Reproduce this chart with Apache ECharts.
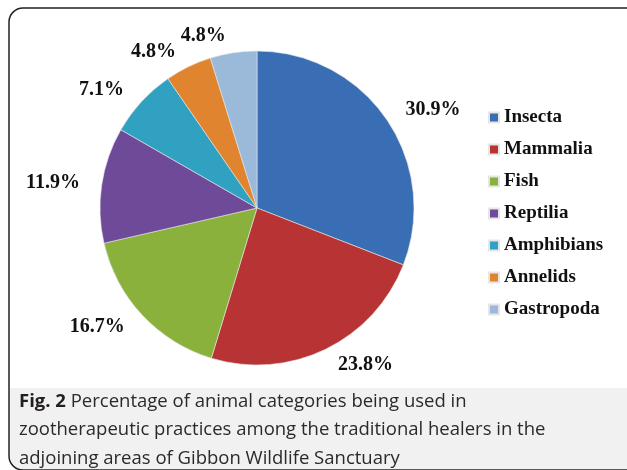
<!DOCTYPE html>
<html>
<head>
<meta charset="utf-8">
<script src="https://cdn.jsdelivr.net/npm/echarts@6/dist/echarts.min.js"></script>
<style>
  html, body { margin: 0; padding: 0; background: #fff; }
  #chart { width: 627px; height: 470px; }
</style>
</head>
<body>
<div id="chart"></div>
<script>
// data
const categories = ['Insecta', 'Mammalia', 'Fish', 'Reptilia', 'Amphibians', 'Annelids', 'Gastropoda']
const percents = [30.9, 23.8, 16.7, 11.9, 7.1, 4.8, 4.8]

const palette = ['#3a6eb4', '#b83333', '#8bb13d', '#6e4a99', '#31a1c2', '#e0842f', '#9bb9d9']

const serif = '"Liberation Serif", "Times New Roman", serif'
const sans = '"Open Sans", sans-serif'

const chart = echarts.init(document.getElementById('chart'))

const options = {
  color: palette,
  animation: false,
  legend: {
    orient: 'vertical',
    left: 483,
    top: 103,
    icon: 'rect',
    itemWidth: 10,
    itemHeight: 10,
    itemGap: 13,
    data: categories,
    textStyle: {
      fontFamily: serif,
      fontWeight: 'bold',
      fontSize: 19,
      color: '#111'
    }
  },
  graphic: [
    {
      type: 'rect',
      z: -1,
      shape: { x: 10, y: 388, width: 640, height: 81, r: [0, 0, 0, 13] },
      style: { fill: '#f1f1f1' }
    },
    {
      type: 'rect',
      shape: { x: 9, y: 8, width: 650, height: 462, r: 14 },
      style: { fill: 'none', stroke: '#222', lineWidth: 1.5 }
    },
    {
      type: 'text',
      left: 19,
      top: 387,
      style: {
        text: '{b|Fig. 2} Percentage of animal categories being used in\nzootherapeutic practices among the traditional healers in the\nadjoining areas of Gibbon Wildlife Sanctuary',
        fontFamily: sans,
        fontSize: 18.5,
        lineHeight: 28.5,
        fill: '#2a2a2a',
        rich: {
          b: { fontWeight: 'bold', fontFamily: sans, fontSize: 18.5, lineHeight: 28.5, fill: '#231f20' }
        }
      }
    }
  ],
  series: [
    {
      type: 'pie',
      center: [257, 208],
      radius: 157,
      startAngle: 90,
      clockwise: true,
      avoidLabelOverlap: false,
      itemStyle: { borderColor: '#e6e6e6', borderWidth: 0.6 },
      label: {
        show: true,
        position: 'outside',
        formatter: '{c}%',
        fontFamily: serif,
        fontWeight: 'bold',
        fontSize: 20,
        color: '#111'
      },
      labelLine: { show: false, length: 17, length2: 0 },
      data: categories.map((name, i) => ({ name: name, value: percents[i] }))
    }
  ]
}

chart.setOption(options)
</script>
</body>
</html>
